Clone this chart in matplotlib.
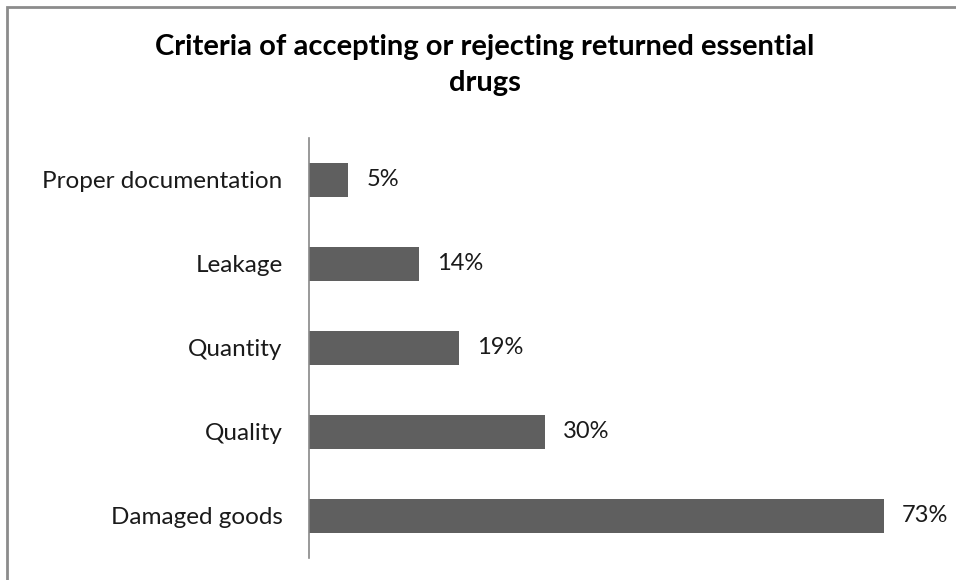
import matplotlib
matplotlib.use("Agg")
import matplotlib.pyplot as plt
from matplotlib.patches import Rectangle

categories = ["Damaged goods", "Quality", "Quantity", "Leakage", "Proper documentation"]
percent = [73, 30, 19, 14, 5]
title = "Criteria of accepting or rejecting returned essential\ndrugs"

plt.rcParams["font.family"] = ["Lato", "DejaVu Sans"]

fig = plt.figure(figsize=(9.56, 5.80), dpi=100)
ax = fig.add_axes([309 / 956, 1 - 558 / 580, 630 / 956, 420 / 580])

ax.barh(range(len(categories)), percent, height=0.4, color="#5f5f5f")
for i, v in enumerate(percent):
  ax.text(v + 2.3, i, f"{v}%", va="center", ha="left", fontsize=17, color="#1a1a1a")

ax.set_xlim(0, 80)
ax.set_ylim(-0.5, len(categories) - 0.5)
ax.set_yticks(range(len(categories)))
ax.set_yticklabels(categories, fontsize=17.5, color="#1a1a1a")
ax.tick_params(axis="y", length=0, pad=19)
ax.set_xticks([])
for side in ("top", "right", "bottom"):
  ax.spines[side].set_visible(False)
ax.spines["left"].set_color("#888888")
ax.spines["left"].set_linewidth(1.2)

fig.text(485 / 956, 1 - 65 / 580, title, ha="center", va="center",
         fontsize=21, fontweight="bold", linespacing=1.5, color="#000000")

# outer chart border (continues past right and bottom edges)
fig.patches.append(Rectangle((7 / 956, -0.1), 1.2, 1 - 7 / 580 + 0.1,
                             transform=fig.transFigure, fill=False,
                             edgecolor="#8c8c8c", linewidth=2))

fig.savefig("out.png", dpi=100)
